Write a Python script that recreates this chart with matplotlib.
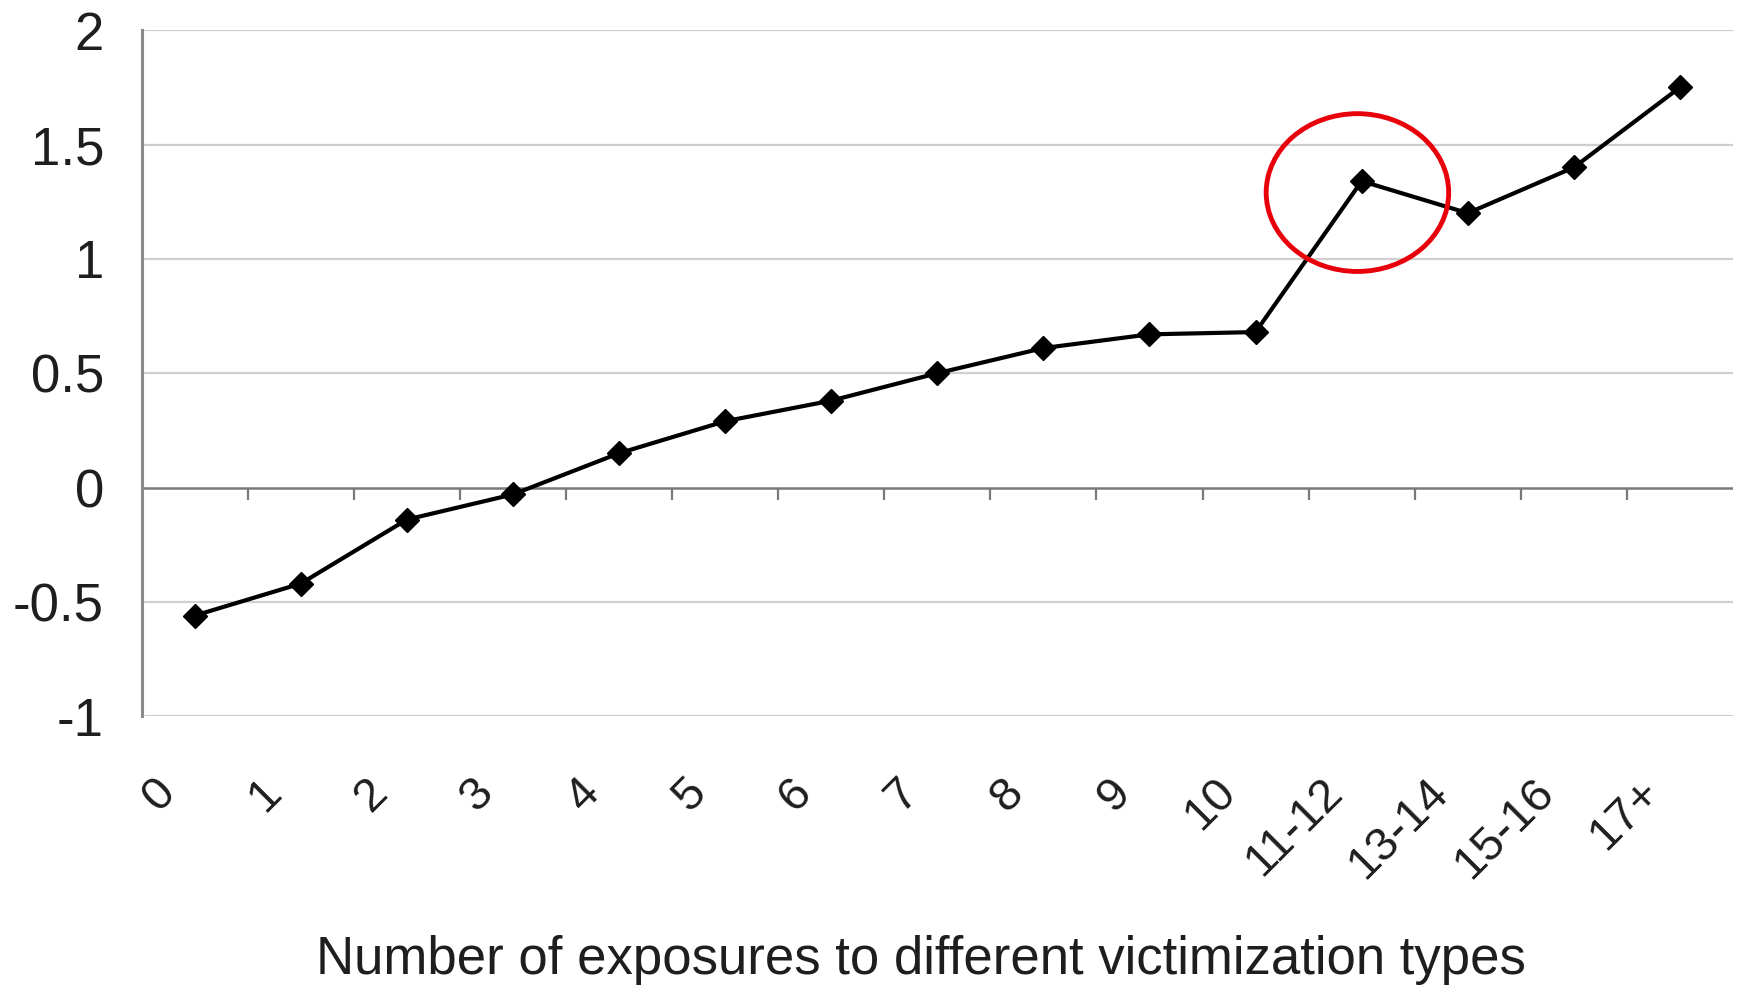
import numpy as np
import matplotlib.pyplot as plt
from matplotlib.patches import Ellipse
from matplotlib.transforms import ScaledTranslation

# data
categories = ['0', '1', '2', '3', '4', '5', '6', '7', '8', '9', '10',
              '11-12', '13-14', '15-16', '17+']
values = [-0.56, -0.42, -0.14, -0.03, 0.15, 0.29, 0.38, 0.50, 0.61,
          0.67, 0.68, 1.34, 1.20, 1.40, 1.75]
yticks = [-1, -0.5, 0, 0.5, 1, 1.5, 2]
ytick_labels = ['-1', '-0.5', '0', '0.5', '1', '1.5', '2']
xlabel = 'Number of exposures to different victimization types'
highlight = '11-12'

plt.rcParams['font.family'] = ['Liberation Sans', 'DejaVu Sans']

fig = plt.figure(figsize=(17.47, 9.90), dpi=100)
ax = fig.add_axes([0.081, 0.2765, 0.911, 0.693])

x = np.arange(len(categories))

# grid lines
for v in yticks:
    if v == 0:
        continue
    ax.axhline(v, color='#cfcfcf', lw=1.6, zorder=0)
ax.axhline(0, color='#7a7a7a', lw=1.8, zorder=1)
# small ticks on the zero line between categories
ax.vlines(x[:-1] + 0.5, -0.055, 0, color='#7a7a7a', lw=1.6, zorder=1)

ax.plot(x, values, color='black', lw=3, marker='D', markersize=12.5, zorder=3)

# red circle around the 11-12 peak
i = categories.index(highlight)
ax.add_patch(Ellipse((i - 0.04, values[i] - 0.05), 1.72, 0.69,
                     fill=False, edgecolor='#e8000b', lw=3.5, zorder=4))

ax.set_xlim(-0.5, len(categories) - 0.5)
ax.set_ylim(-1, 2)

for s in ['top', 'right', 'bottom']:
    ax.spines[s].set_visible(False)
ax.spines['left'].set_color('#8a8a8a')
ax.spines['left'].set_linewidth(2.2)

ax.set_yticks(yticks)
ax.set_yticklabels(ytick_labels, fontsize=38, color='#1e1e1e')
ax.tick_params(axis='y', length=0, pad=27)

ax.set_xticks(x)
ax.set_xticklabels(categories, fontsize=34, color='#1e1e1e',
                   rotation=45, ha='right', va='center',
                   rotation_mode='anchor')
ax.tick_params(axis='x', length=0, pad=50)
shift = ScaledTranslation(-0.26, 0, fig.dpi_scale_trans)
for lab in ax.get_xticklabels():
    lab.set_transform(lab.get_transform() + shift)

fig.text(0.527, 0.03, xlabel, ha='center', va='center', fontsize=38,
         color='#1e1e1e')

fig.savefig('out.png', dpi=100, facecolor='white')
